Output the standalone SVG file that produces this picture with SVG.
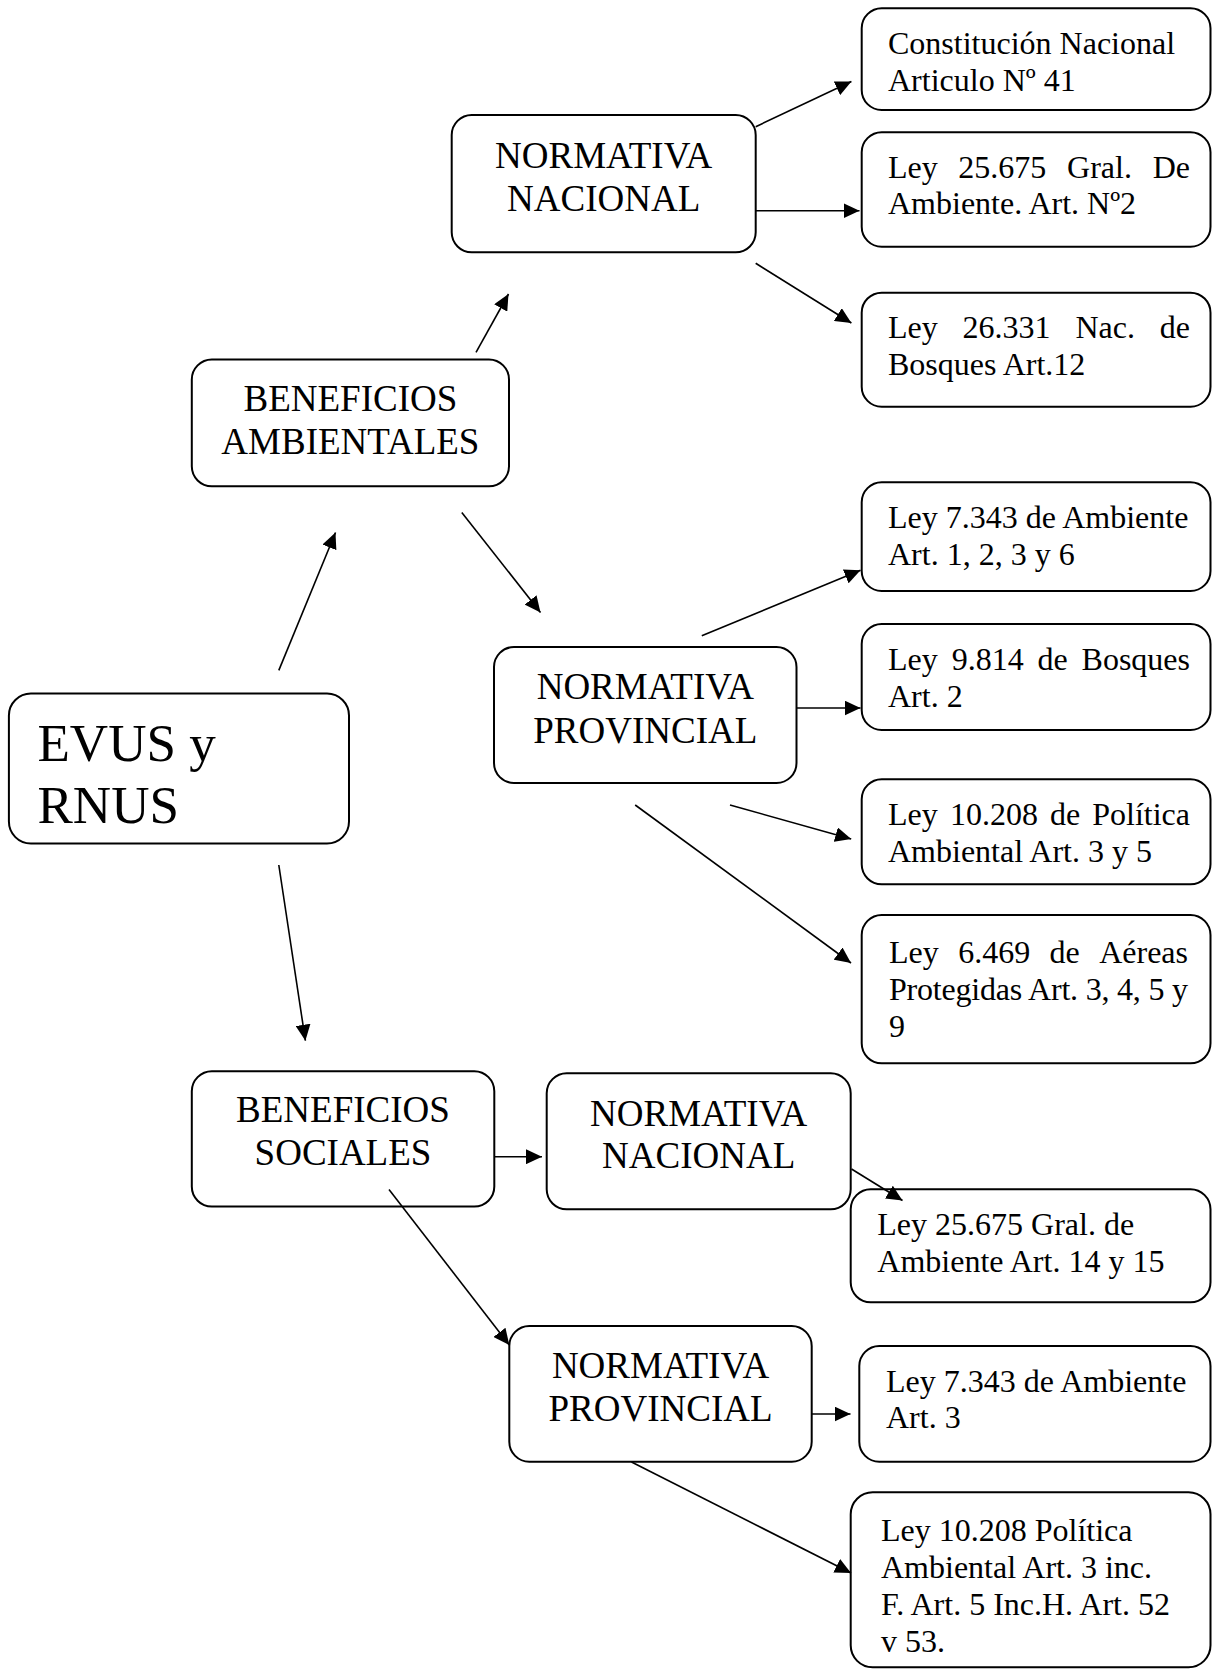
<svg xmlns="http://www.w3.org/2000/svg" width="1212" height="1669" viewBox="0 0 1212 1669">
<style>
  .box { fill: #ffffff; stroke: #000000; stroke-width: 2; }
  .mid { font-family: "Liberation Serif", "Times New Roman", serif; font-size: 37px; fill: #000; text-anchor: middle; }
  .big { font-family: "Liberation Serif", "Times New Roman", serif; font-size: 53px; fill: #000; }
  .law { font-family: "Liberation Serif", "Times New Roman", serif; font-size: 32px; fill: #000; }
  .end { text-anchor: end; }
  .conn line { stroke: #000; stroke-width: 1.6; fill: none; marker-end: url(#arr); }
</style>
<defs>
  <marker id="arr" markerUnits="userSpaceOnUse" markerWidth="17" markerHeight="15" refX="16" refY="7.5" orient="auto">
    <path d="M0,0 L16,7.5 L0,15 Z" fill="#000"/>
  </marker>
</defs>
<rect width="1212" height="1669" fill="#ffffff"/>

<g id="n-evus">
  <rect class="box" x="8.9" y="693.6" width="340.1" height="150" rx="22"/>
  <text class="big" x="37.5" y="761.4">EVUS y</text>
  <text class="big" x="37.5" y="822.9">RNUS</text>
</g>

<g id="n-benef-amb">
  <rect class="box" x="191.8" y="359.5" width="317.2" height="126.8" rx="20"/>
  <text class="mid" x="350.4" y="410.5">BENEFICIOS</text>
  <text class="mid" x="350.4" y="454">AMBIENTALES</text>
</g>

<g id="n-norm-nac-amb">
  <rect class="box" x="451.7" y="115" width="304" height="137.3" rx="20"/>
  <text class="mid" x="603.7" y="168.3">NORMATIVA</text>
  <text class="mid" x="603.7" y="210.7">NACIONAL</text>
</g>

<g id="n-norm-prov-amb">
  <rect class="box" x="494" y="647" width="302.5" height="136" rx="20"/>
  <text class="mid" x="645.3" y="699">NORMATIVA</text>
  <text class="mid" x="645.3" y="742.5">PROVINCIAL</text>
</g>

<g id="n-benef-soc">
  <rect class="box" x="191.8" y="1071.3" width="302.5" height="135.3" rx="20"/>
  <text class="mid" x="343" y="1122.2">BENEFICIOS</text>
  <text class="mid" x="343" y="1165.2">SOCIALES</text>
</g>

<g id="n-norm-nac-soc">
  <rect class="box" x="546.7" y="1073.3" width="304" height="136" rx="20"/>
  <text class="mid" x="698.7" y="1126">NORMATIVA</text>
  <text class="mid" x="698.7" y="1168.3">NACIONAL</text>
</g>

<g id="n-norm-prov-soc">
  <rect class="box" x="509.3" y="1326" width="302.4" height="135.7" rx="20"/>
  <text class="mid" x="660.5" y="1378.3">NORMATIVA</text>
  <text class="mid" x="660.5" y="1420.7">PROVINCIAL</text>
</g>

<g id="n-constitucion">
  <rect class="box" x="861.7" y="8.3" width="348.8" height="101.7" rx="20"/>
  <text class="law" x="888" y="54">Constitución Nacional</text>
  <text class="law" x="888" y="90.7">Articulo Nº 41</text>
</g>

<g id="n-ley25675-amb">
  <rect class="box" x="861.7" y="132.3" width="348.8" height="114.4" rx="20"/>
  <text class="law" y="178.3"><tspan x="888">Ley</tspan><tspan x="958.3">25.675</tspan><tspan x="1067.1">Gral.</tspan></text>
  <text class="law end" x="1190" y="178.3">De</text>
  <text class="law" x="888" y="214.3">Ambiente. Art. Nº2</text>
</g>

<g id="n-ley26331">
  <rect class="box" x="861.7" y="292.7" width="348.8" height="114" rx="20"/>
  <text class="law" y="338.3"><tspan x="888">Ley</tspan><tspan x="962.6">26.331</tspan><tspan x="1075.4">Nac.</tspan></text>
  <text class="law end" x="1190" y="338.3">de</text>
  <text class="law" x="888" y="375">Bosques Art.12</text>
</g>

<g id="n-ley7343-amb">
  <rect class="box" x="861.7" y="482.3" width="348.8" height="108.7" rx="20"/>
  <text class="law" x="888" y="528.3">Ley 7.343 de Ambiente</text>
  <text class="law" x="888" y="565">Art. 1, 2, 3 y 6</text>
</g>

<g id="n-ley9814">
  <rect class="box" x="861.7" y="624" width="348.8" height="106" rx="20"/>
  <text class="law" y="670"><tspan x="888">Ley</tspan><tspan x="951.7">9.814</tspan><tspan x="1037.6">de</tspan></text>
  <text class="law end" x="1190" y="670">Bosques</text>
  <text class="law" x="888" y="706.7">Art. 2</text>
</g>

<g id="n-ley10208-amb">
  <rect class="box" x="861.7" y="779.3" width="348.8" height="105" rx="20"/>
  <text class="law" y="825"><tspan x="888">Ley</tspan><tspan x="949.9">10.208</tspan><tspan x="1050">de</tspan></text>
  <text class="law end" x="1190" y="825">Política</text>
  <text class="law" x="888" y="861.7">Ambiental Art. 3 y 5</text>
</g>

<g id="n-ley6469">
  <rect class="box" x="861.7" y="915" width="348.8" height="148.3" rx="20"/>
  <text class="law" y="963.3"><tspan x="889">Ley</tspan><tspan x="958.2">6.469</tspan><tspan x="1049.6">de</tspan></text>
  <text class="law end" x="1188" y="963.3">Aéreas</text>
  <text class="law" x="889" y="1000" textLength="299" lengthAdjust="spacing">Protegidas Art. 3, 4, 5 y</text>
  <text class="law" x="889" y="1036.7">9</text>
</g>

<g id="n-ley25675-soc">
  <rect class="box" x="850.7" y="1189.3" width="359.8" height="113" rx="20"/>
  <text class="law" x="877.3" y="1235">Ley 25.675 Gral. de</text>
  <text class="law" x="877.3" y="1271.7">Ambiente Art. 14 y 15</text>
</g>

<g id="n-ley7343-soc">
  <rect class="box" x="859.3" y="1346" width="351.2" height="115.7" rx="20"/>
  <text class="law" x="886" y="1391.7">Ley 7.343 de Ambiente</text>
  <text class="law" x="886" y="1428.3">Art. 3</text>
</g>

<g id="n-ley10208-soc">
  <rect class="box" x="850.7" y="1492.3" width="359.8" height="175" rx="22"/>
  <text class="law" x="881" y="1541">Ley 10.208 Política</text>
  <text class="law" x="881" y="1578.3">Ambiental Art. 3 inc.</text>
  <text class="law" x="881" y="1615">F. Art. 5 Inc.H. Art. 52</text>
  <text class="law" x="881" y="1651.7">v 53.</text>
</g>

<g id="connectors" class="conn">
  <line x1="278.8" y1="670.4" x2="335.5" y2="532.5"/>
  <line x1="278.8" y1="865" x2="305.4" y2="1040.7"/>
  <line x1="476" y1="352.3" x2="508.5" y2="294"/>
  <line x1="461.8" y1="512.4" x2="540.5" y2="612.5"/>
  <line x1="755.7" y1="126.7" x2="851.4" y2="81.5"/>
  <line x1="755.7" y1="210.7" x2="859.5" y2="210.7"/>
  <line x1="755.7" y1="263.3" x2="851.4" y2="323"/>
  <line x1="701.8" y1="635.7" x2="860.5" y2="570.3"/>
  <line x1="797" y1="708" x2="860.5" y2="708"/>
  <line x1="730" y1="805" x2="851.2" y2="839"/>
  <line x1="635.2" y1="805" x2="851" y2="963"/>
  <line x1="494.3" y1="1156.7" x2="542" y2="1156.7"/>
  <line x1="851.5" y1="1169" x2="902.5" y2="1200.5"/>
  <line x1="389" y1="1189.5" x2="509.3" y2="1345"/>
  <line x1="811.7" y1="1414" x2="850.5" y2="1414"/>
  <line x1="631.5" y1="1462" x2="851" y2="1573"/>
</g>
</svg>
